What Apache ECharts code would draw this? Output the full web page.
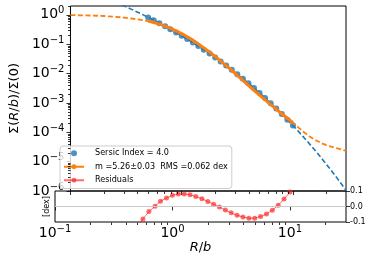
<!DOCTYPE html>
<html><head><meta charset="utf-8">
<script src="https://cdn.jsdelivr.net/npm/echarts@6/dist/echarts.min.js"></script>
<style>html,body{margin:0;padding:0;background:#fff}#c{width:374px;height:261px}</style>
</head><body><div id="c"></div>
<script>
// ---- data ----
const radiusGrid = [0.50,0.56,0.63,0.71,0.79,0.89,1.00,1.12,1.26,1.41,1.58,1.78,2.00,2.24,2.51,2.82,3.16,3.55,3.98,4.47,5.01,5.62,6.31,7.08,7.94,8.91,10.0];
const sersicPoints = [0.818,0.656,0.521,0.412,0.324,0.252,0.195,0.150,0.114,0.0863,0.0647,0.0481,0.0354,0.0259,0.01875,0.01343,0.00953,0.00670,0.00467,0.00321,0.00219,0.001472,0.000979,0.000644,0.000419,0.000269,0.000170];
const fitSolid = [0.614,0.546,0.483,0.414,0.350,0.286,0.230,0.180,0.1374,0.1028,0.0750,0.0540,0.0382,0.0267,0.01858,0.01274,0.00867,0.00587,0.00399,0.00270,0.001841,0.001268,0.000877,0.000610,0.000427,0.000301,0.000211];
const residuals = [-0.125,-0.080,-0.033,0.002,0.034,0.055,0.072,0.080,0.081,0.076,0.064,0.050,0.033,0.014,-0.004,-0.023,-0.041,-0.057,-0.068,-0.075,-0.075,-0.065,-0.048,-0.024,0.008,0.048,0.093];
const sersicCurveR = [0.251,0.282,0.316,0.355,0.398,0.447].concat(radiusGrid, [11.22,12.59,14.13,15.85,17.78,19.95,22.39,25.12,30.0]);
const sersicCurveS = [2.74,2.275,1.875,1.535,1.253,1.016].concat(sersicPoints, [1.067e-4,6.56e-5,3.98e-5,2.39e-5,1.41e-5,8.20e-6,4.70e-6,2.64e-6,1.06e-6]);
const fitCurveR = [0.100,0.126,0.158,0.200,0.251,0.316,0.398,0.50,0.63,0.79,1.00,1.26,1.58,2.00,2.51,3.16,3.98,5.01,6.31,7.94,10.0,11.22,12.59,14.13,15.85,17.78,19.95,22.39,25.12,30.0];
const fitCurveS = [0.977,0.966,0.946,0.912,0.861,0.794,0.708,0.614,0.483,0.350,0.230,0.1374,0.0750,0.0382,0.01858,0.00867,0.00399,0.001841,0.000877,0.000427,0.000211,1.445e-4,1.0e-4,7.24e-5,5.50e-5,4.37e-5,3.63e-5,3.16e-5,2.82e-5,2.34e-5];
const xMajorTicks = [0.1,1,10];
const yMajorTicks = [1e-6,1e-5,1e-4,1e-3,1e-2,1e-1,1];
const sersicName = 'Sersic Index = 4.0';
const fitName = 'm =5.26\u00b10.03  RMS =0.062 dex';
const residName = 'Residuals';

// minor tick positions (2..9 x 10^k)
const xMinor = []; const yMinor = [];
for (let k=-1;k<=1;k++) for (let m=2;m<=9;m++){const v=m*Math.pow(10,k); if(v<30) xMinor.push(v);}
for (let k=-6;k<=0;k++) for (let m=2;m<=9;m++){const v=m*Math.pow(10,k); if(v<=2) yMinor.push(v);}

const FONT = 'DejaVu Sans';
const zip = (a,b)=>a.map((v,i)=>[v,b[i]]);
const powFmt = v => { const e = Math.round(Math.log10(v)); return '{b|10}{s|' + (e<0?'\u2212'+(-e):e) + '}'; };
const powRich = { b:{fontFamily:FONT,fontSize:14,color:'#000',lineHeight:18}, s:{fontFamily:FONT,fontSize:10,color:'#000',verticalAlign:'top',lineHeight:10} };

function minorTicks(xi, yi, pts, dir){
  return {type:'custom', xAxisIndex:xi, yAxisIndex:yi, silent:true, clip:false, z:10, data:pts,
    renderItem:(params, api)=>{
      const p = api.coord([api.value(0), api.value(1)]);
      const x1=Math.round(p[0])+0.5, y1=Math.round(p[1])+0.5;
      const x2 = dir==='down'? x1 : x1-2.5;
      const y2 = dir==='down'? y1+2.5 : y1;
      return {type:'line', shape:{x1:x1,y1:y1,x2:x2,y2:y2}, style:{stroke:'#000', lineWidth:0.8}};
    }};
}

const chart = echarts.init(document.getElementById('c'), null, {renderer:'canvas'});
const option = {
  animation:false,
  backgroundColor:'#fff',
  grid:[
    {left:55, right:28, top:6, height:185, show:true, borderColor:'#000', borderWidth:1, backgroundColor:'transparent', containLabel:false},
    {left:55, right:28, top:191, height:31, show:true, borderColor:'#000', borderWidth:1, backgroundColor:'transparent', containLabel:false}
  ],
  legend:{
    data:[{name:sersicName, icon:'circle'},{name:fitName},{name:residName}],
    orient:'vertical', left:60, top:146, padding:[2,4,3,3], itemGap:3, itemWidth:20, itemHeight:6,
    backgroundColor:'rgba(255,255,255,0.8)', borderColor:'#cccccc', borderWidth:1, borderRadius:3,
    textStyle:{fontFamily:FONT, fontSize:8.1, color:'#000', lineHeight:10.5, padding:[0,0,0,6]}
  },
  xAxis:[
    {type:'log', gridIndex:0, min:0.1, max:30, logBase:10,
     axisLine:{show:false}, splitLine:{show:false},
     axisTick:{show:true, inside:false, length:4, customValues:xMajorTicks, lineStyle:{color:'#000',width:0.8}},
     axisLabel:{show:false}},
    {type:'log', gridIndex:1, min:0.1, max:30, logBase:10,
     axisLine:{show:false}, splitLine:{show:false},
     axisTick:{show:true, inside:false, length:4, customValues:xMajorTicks, lineStyle:{color:'#000',width:0.8}},
     axisLabel:{show:true, margin:2, customValues:xMajorTicks, formatter:powFmt, rich:powRich},
     name:'{i|R}{n|/}{i|b}', nameLocation:'middle', nameGap:17,
     nameTextStyle:{rich:{i:{fontFamily:FONT,fontSize:13,fontStyle:'italic',color:'#000'}, n:{fontFamily:FONT,fontSize:13,color:'#000'}}}}
  ],
  yAxis:[
    {type:'log', gridIndex:0, min:1e-6, max:2, logBase:10,
     axisLine:{show:false}, splitLine:{show:false},
     axisTick:{show:true, inside:false, length:4, customValues:yMajorTicks, lineStyle:{color:'#000',width:0.8}},
     axisLabel:{show:true, margin:6, align:'right', customValues:yMajorTicks, formatter:powFmt, rich:powRich},
     name:'{n|\u03a3(}{i|R}{n|/}{i|b}{n|)/\u03a3(0)}', nameLocation:'middle', nameRotate:90, nameGap:40,
     nameTextStyle:{rich:{i:{fontFamily:FONT,fontSize:13,fontStyle:'italic',color:'#000'}, n:{fontFamily:FONT,fontSize:13,color:'#000'}}}},
    {type:'value', gridIndex:1, min:-0.1, max:0.1, interval:0.1, position:'right',
     axisLine:{show:false}, splitLine:{show:false},
     axisTick:{show:true, inside:false, length:4, lineStyle:{color:'#000',width:0.8}},
     axisLabel:{show:true, margin:4, fontFamily:FONT, fontSize:8, color:'#000',
       formatter:v=>(v<-1e-9?'-':'')+Math.abs(v).toFixed(1)}},
    {type:'value', gridIndex:1, min:-0.1, max:0.1, position:'left',
     axisLine:{show:false}, axisTick:{show:false}, axisLabel:{show:false}, splitLine:{show:false},
     name:'[dex]', nameLocation:'middle', nameRotate:90, nameGap:4,
     nameTextStyle:{fontFamily:FONT, fontSize:8, color:'#000'}}
  ],
  series:[
    {type:'line', name:'sersicCurve', xAxisIndex:0, yAxisIndex:0, data:zip(sersicCurveR, sersicCurveS),
     showSymbol:false, symbol:'none', clip:true, lineStyle:{color:'#1f77b4', width:1.6, type:[5,2.5]}},
    {type:'scatter', name:sersicName, xAxisIndex:0, yAxisIndex:0, data:zip(radiusGrid, sersicPoints),
     symbol:'circle', symbolSize:6, itemStyle:{color:'#1f77b4'}},
    {type:'line', name:'fitCurve', xAxisIndex:0, yAxisIndex:0, data:zip(fitCurveR, fitCurveS),
     showSymbol:false, symbol:'none', clip:true, lineStyle:{color:'#ff7f0e', width:1.8, type:[5,2.5]}},
    {type:'line', name:fitName, xAxisIndex:0, yAxisIndex:0, data:zip(radiusGrid, fitSolid),
     showSymbol:false, symbol:'none', clip:true, itemStyle:{color:'#ff7f0e'}, lineStyle:{color:'#ff7f0e', width:3}},
    {type:'line', name:residName, xAxisIndex:1, yAxisIndex:1, data:zip(radiusGrid, residuals),
     symbol:'circle', symbolSize:5, showSymbol:true, clip:true,
     itemStyle:{color:'rgba(255,30,30,0.65)'}, lineStyle:{color:'rgba(255,30,30,0.65)', width:1},
     markLine:{silent:true, symbol:'none', label:{show:false}, lineStyle:{color:'#c8c8c8', width:1, type:'solid'}, data:[{yAxis:0}]}},
    minorTicks(0,0, xMinor.map(v=>[v,1e-6]), 'down'),
    minorTicks(1,1, xMinor.map(v=>[v,-0.1]), 'down'),
    minorTicks(0,0, yMinor.map(v=>[0.1,v]), 'left')
  ]
};
chart.setOption(option);
</script></body></html>
